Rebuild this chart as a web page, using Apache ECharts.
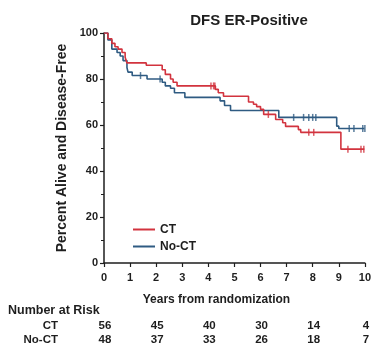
<!DOCTYPE html>
<html><head><meta charset="utf-8">
<script src="https://cdn.jsdelivr.net/npm/echarts@6/dist/echarts.min.js"></script>
<style>html,body{margin:0;padding:0;background:#fff}#c{width:374px;height:351px}</style>
</head><body><div id="c"></div>
<script>
// Kaplan-Meier step points [years, percent]
var ctCurve = [[0,100],[0.15,97.5],[0.3,95.5],[0.42,94],[0.54,93],[0.69,91.5],[0.81,89.5],[0.88,87],[1.62,86],[2.23,84],[2.35,82],[2.55,80],[2.65,78.6],[2.8,77],[4.27,75.5],[4.38,74],[4.58,72.5],[5.54,70],[5.73,69],[5.85,68],[6.0,66.8],[6.12,64.6],[6.58,62.4],[6.85,61],[6.96,59.4],[7.45,58],[7.54,56.8],[9.08,49.5],[9.98,49.5]];
var noctCurve = [[0,100],[0.15,97],[0.3,93],[0.5,91.5],[0.62,90],[0.73,88],[0.88,85],[0.92,83],[1.08,81.5],[1.65,80],[2.23,78.6],[2.35,77],[2.55,76],[2.7,74],[3.1,72],[4.45,70.5],[4.62,68.5],[4.85,66.3],[6.7,63.3],[8.92,59.5],[9.0,58.5],[9.98,58.5]];
var ctCensor = [[4.1,77],[4.2,77],[4.25,77],[6.3,64.6],[7.85,56.8],[8.04,56.8],[9.35,49.5],[9.85,49.5],[9.96,49.5]];
var noctCensor = [[1.4,81.5],[2.15,80],[7.27,63.3],[7.65,63.3],[7.85,63.3],[8.0,63.3],[8.12,63.3],[9.4,58.5],[9.58,58.5],[9.92,58.5],[10.0,58.5]];
var riskYears = [0,2,4,6,8,10];
var riskCT = [56,45,40,30,14,4];
var riskNoCT = [48,37,33,26,18,7];
var seriesNames = ['CT','No-CT'];

var RED = '#d2333e', BLUE = '#2f5b82', INK = '#1e1e1e';
var FONT = 'Liberation Sans, Arial, sans-serif';
var chart = echarts.init(document.getElementById('c'));
var option = {
  animation: false,
  title: {text: 'DFS ER-Positive', left: 244, top: 8, textAlign: 'center',
    textStyle: {fontFamily: FONT, fontWeight: 'bold', fontSize: 15, color: INK}},
  grid: {left: 104, right: 9, top: 33, bottom: 88},
  legend: {orient: 'vertical', left: 128, top: 218, itemWidth: 22, itemHeight: 2, itemGap: 4,
    icon: 'rect', data: seriesNames,
    textStyle: {fontFamily: FONT, fontWeight: 'bold', fontSize: 12, color: INK, lineHeight: 13}},
  xAxis: {type: 'value', min: 0, max: 10, interval: 1,
    axisLine: {lineStyle: {color: INK, width: 1.5}},
    axisTick: {length: 4, lineStyle: {color: INK, width: 1.2}},
    axisLabel: {fontFamily: FONT, fontWeight: 'bold', fontSize: 11, color: INK, margin: 9},
    splitLine: {show: false}},
  yAxis: {type: 'value', min: 0, max: 100, interval: 20,
    name: 'Percent Alive and Disease-Free', nameLocation: 'middle', nameGap: 34,
    nameTextStyle: {fontFamily: FONT, fontWeight: 'bold', fontSize: 14, color: INK},
    axisLine: {show: true, lineStyle: {color: INK, width: 1.5}},
    axisTick: {show: true, length: 4, lineStyle: {color: INK, width: 1.2}},
    minorTick: {show: true, splitNumber: 2, length: 3, lineStyle: {color: INK, width: 1}},
    axisLabel: {fontFamily: FONT, fontWeight: 'bold', fontSize: 11, color: INK, margin: 6},
    splitLine: {show: false}},
  series: [
    {name: 'CT', type: 'line', step: 'end', data: ctCurve, showSymbol: false, symbol: 'none',
      lineStyle: {color: RED, width: 1.6}, itemStyle: {color: RED}, z: 3},
    {name: 'No-CT', type: 'line', step: 'end', data: noctCurve, showSymbol: false, symbol: 'none',
      lineStyle: {color: BLUE, width: 1.6}, itemStyle: {color: BLUE}, z: 2},
    {type: 'scatter', data: ctCensor, symbol: 'rect', symbolSize: [1.5, 7], itemStyle: {color: RED}, z: 4},
    {type: 'scatter', data: noctCensor, symbol: 'rect', symbolSize: [1.5, 7], itemStyle: {color: BLUE}, z: 4}
  ]
};
chart.setOption(option);

var g = [];
var txt = function (x, y, s, align) {
  return {type: 'text', x: x, y: y, style: {text: s, fontFamily: FONT, fontWeight: 'bold', fontSize: 11.5,
    fill: INK, align: align || 'center', verticalAlign: 'middle'}};
};
var x0 = chart.convertToPixel({xAxisIndex: 0}, 0), x10 = chart.convertToPixel({xAxisIndex: 0}, 10);
g.push({type: 'text', x: (x0 + x10) / 2 - 18, y: 300,
  style: {text: 'Years from randomization', fontFamily: FONT, fontWeight: 'bold', fontSize: 12, fill: INK,
    align: 'center', verticalAlign: 'middle'}});
g.push({type: 'text', x: 8, y: 311, style: {text: 'Number at Risk', fontFamily: FONT, fontWeight: 'bold',
  fontSize: 12.5, fill: INK, align: 'left', verticalAlign: 'middle'}});
g.push(txt(58, 326, seriesNames[0], 'right'));
g.push(txt(58, 340, seriesNames[1], 'right'));
riskYears.forEach(function (t, i) {
  var px = chart.convertToPixel({xAxisIndex: 0}, t) + 1;
  g.push(txt(px, 326, String(riskCT[i])));
  g.push(txt(px, 340, String(riskNoCT[i])));
});
chart.setOption({graphic: g});
</script></body></html>
